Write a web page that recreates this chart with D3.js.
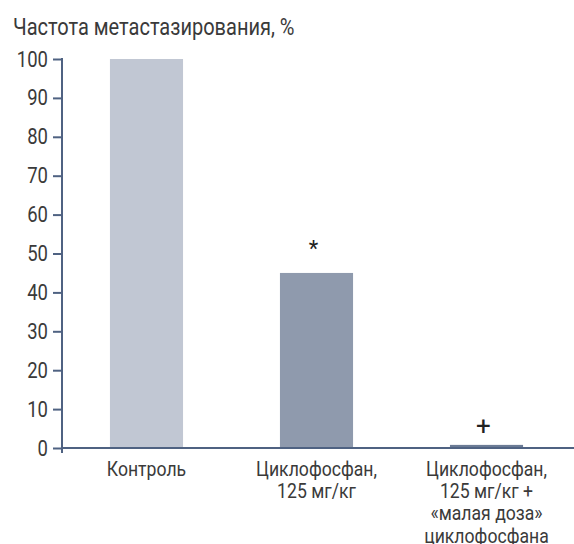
<!DOCTYPE html>
<html>
<head>
<meta charset="utf-8">
<script src="https://cdn.jsdelivr.net/npm/d3@7"></script>
<style>
  body { margin: 0; background: #fff; }
  text { font-family: Roboto, "Noto Sans", sans-serif; fill: #3a3a3a; }
</style>
</head>
<body>
<div class="canvas"></div>
<script>
const categories = [
  ['Контроль'],
  ['Циклофосфан,', '125 мг/кг'],
  ['Циклофосфан,', '125 мг/кг +', '«малая доза»', 'циклофосфана']
]
const values = [100, 45, 0.8]
const marks = ['', '*', '+']
const barColors = ['#c1c7d3', '#8f9aad', '#6b7b95']
const yTicks = [0, 10, 20, 30, 40, 50, 60, 70, 80, 90, 100]
const yTitle = 'Частота метастазирования, %'

const width = 574, height = 544
const axisColor = '#4f6282'
// the original uses a condensed face, so squeeze Roboto horizontally
const squeeze = 0.84

const svg = d3.select('.canvas').append('svg')
  .attr('width', width)
  .attr('height', height)

const x = d3.scaleBand()
  .domain(d3.range(categories.length))
  .range([62, 571])
  .paddingInner(0.57)
  .paddingOuter(0.282)

const y = d3.scaleLinear()
  .domain([0, 100])
  .range([448, 59])

// bars
svg.selectAll('.bar')
  .data(values)
  .join('rect')
  .attr('class', 'bar')
  .attr('x', (d, i) => x(i))
  .attr('y', d => y(d))
  .attr('width', x.bandwidth())
  .attr('height', d => y(0) - y(d))
  .attr('fill', (d, i) => barColors[i])

// significance marks
svg.selectAll('.mark')
  .data(values)
  .join('text')
  .attr('class', 'mark')
  .attr('x', (d, i) => x(i) + x.bandwidth() / 2 - 3)
  .attr('y', (d, i) => y(d) - (i === 1 ? 17 : 10))
  .attr('text-anchor', 'middle')
  .attr('font-size', (d, i) => i === 1 ? 22 : 26)
  .style('fill', '#222')
  .text((d, i) => marks[i])

// y axis
const yAxis = svg.append('g')
  .attr('transform', 'translate(62,0)')
  .call(d3.axisLeft(y).tickValues(yTicks).tickSize(9).tickSizeOuter(0))
yAxis.select('.domain').remove()
yAxis.selectAll('line').attr('stroke', axisColor).attr('stroke-width', 2)
yAxis.selectAll('text')
  .attr('x', -14 / squeeze)
  .attr('transform', `scale(${squeeze},1)`)
  .attr('font-size', 22)
  .style('font-family', 'Roboto, sans-serif')
  .style('fill', '#3a3a3a')
yAxis.append('line')
  .attr('x1', 0).attr('x2', 0)
  .attr('y1', y(100) - 1).attr('y2', y(0) + 5)
  .attr('stroke', axisColor).attr('stroke-width', 2)

// x axis line
svg.append('line')
  .attr('x1', 61).attr('x2', width)
  .attr('y1', y(0)).attr('y2', y(0))
  .attr('stroke', axisColor).attr('stroke-width', 2)

// category labels
svg.selectAll('.cat')
  .data(categories)
  .join('text')
  .attr('class', 'cat')
  .attr('text-anchor', 'middle')
  .attr('font-size', 21)
  .attr('transform', (d, i) => `translate(${x(i) + x.bandwidth() / 2},0) scale(${squeeze},1)`)
  .each(function(lines){
    d3.select(this).selectAll('tspan')
      .data(lines)
      .join('tspan')
      .attr('x', 0)
      .attr('y', (d, k) => 476 + k * 22.2)
      .text(d => d)
  })

// title
svg.append('text')
  .attr('transform', 'translate(13,35) scale(0.87,1)')
  .attr('font-size', 23)
  .text(yTitle)
</script>
</body>
</html>
